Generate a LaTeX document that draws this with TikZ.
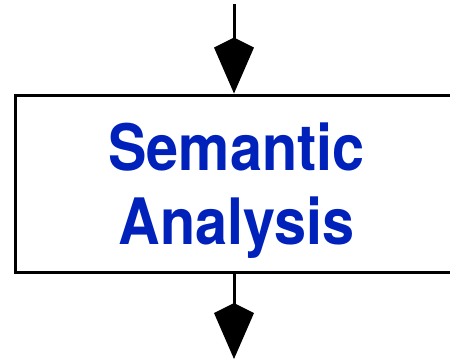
\documentclass[tikz,border=0pt]{standalone}
\usepackage{fontspec}
\setmainfont{TeX Gyre Heros}
\newfontfamily\phasefont[FakeStretch=0.9]{TeX Gyre Heros}
\usepackage{tikz}
\usetikzlibrary{arrows.meta, positioning}
\definecolor{phaseblue}{HTML}{0022BB}

\begin{document}
\begin{tikzpicture}[
        x=1pt, y=-1pt,
        phase/.style={rectangle, draw=black, line width=3pt, minimum width=442pt, minimum height=177pt,
          align=center, text depth=0pt, text=phaseblue, font=\phasefont\fontsize{64}{74}\selectfont\bfseries},
        flow/.style={line width=3pt, -{Kite[length=56pt, width=40pt, inset=10pt]}}
      ]
      \useasboundingbox (0,0) rectangle (450,360);
      \clip (0,0) rectangle (450,360);
      \node (sem) [phase] at (236.5,183.5) {Semantic\\Analysis};
      \coordinate (in) at (234,4);
      \coordinate (out) at (234,359);

      \draw[flow] (in) -- (in |- sem.north);
      \draw[flow] (out |- sem.south) -- (out);
    \end{tikzpicture}
\end{document}
